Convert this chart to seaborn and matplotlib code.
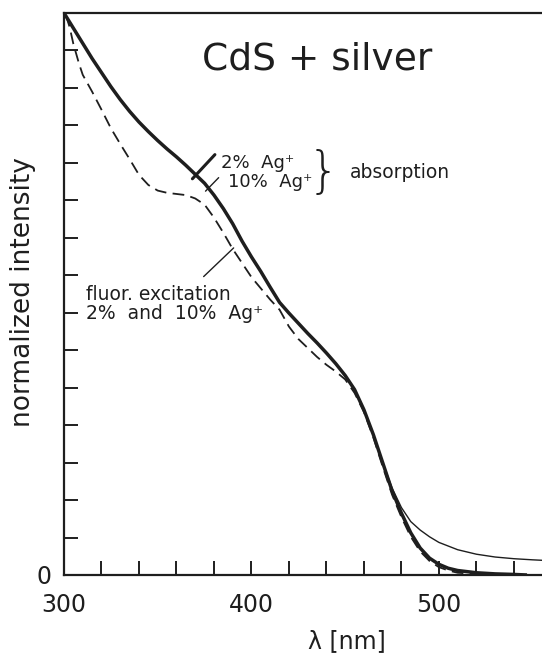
import numpy as np
import pandas as pd
import matplotlib
matplotlib.use("Agg")
import matplotlib.pyplot as plt
import seaborn as sns

# Wavelength grid (nm) for the absorption spectra
wl_abs = [300, 305, 310, 315, 320, 325, 330, 335, 340, 345, 350, 355, 360, 365,
          370, 375, 380, 385, 390, 395, 400, 405, 410, 415, 420, 425, 430, 435,
          440, 445, 450, 455, 460, 465, 470, 475, 480, 485, 490, 495, 500, 505,
          510, 520, 530, 540, 547]

# Absorption, 2% Ag+ (normalized)
abs_2 = [1.000, 0.973, 0.946, 0.919, 0.894, 0.869, 0.846, 0.825, 0.806, 0.789,
         0.773, 0.758, 0.744, 0.729, 0.713, 0.697, 0.676, 0.652, 0.625, 0.594,
         0.566, 0.540, 0.512, 0.485, 0.466, 0.448, 0.430, 0.413, 0.395, 0.376,
         0.355, 0.330, 0.294, 0.250, 0.200, 0.150, 0.110, 0.075, 0.048, 0.030,
         0.019, 0.012, 0.008, 0.004, 0.002, 0.001, 0.000]

# Absorption, 10% Ag+ (normalized) -- long-wavelength tail
wl_abs10 = [300, 305, 310, 315, 320, 325, 330, 335, 340, 345, 350, 355, 360, 365,
            370, 375, 380, 385, 390, 395, 400, 405, 410, 415, 420, 425, 430, 435,
            440, 445, 450, 455, 460, 465, 470, 475, 480, 485, 490, 495, 500, 510,
            520, 530, 540, 550, 556]
abs_10 = [1.000, 0.973, 0.946, 0.919, 0.894, 0.869, 0.846, 0.825, 0.806, 0.789,
          0.773, 0.758, 0.744, 0.729, 0.713, 0.697, 0.676, 0.652, 0.625, 0.594,
          0.566, 0.540, 0.512, 0.485, 0.466, 0.448, 0.430, 0.413, 0.395, 0.376,
          0.355, 0.330, 0.294, 0.250, 0.200, 0.155, 0.120, 0.095, 0.080, 0.068,
          0.058, 0.045, 0.037, 0.032, 0.029, 0.027, 0.026]

# Fluorescence excitation, 2% and 10% Ag+ (normalized)
wl_exc = [301, 303, 305, 308, 310, 315, 320, 325, 330, 335, 340, 345, 350, 355,
          360, 365, 370, 375, 380, 385, 390, 395, 400, 405, 410, 415, 420, 425,
          430, 435, 440, 445, 450, 455, 460, 465, 470, 475, 480, 485, 490, 495,
          500, 505, 510, 520, 530, 545]
exc = [0.996, 0.975, 0.945, 0.910, 0.890, 0.860, 0.828, 0.795, 0.767, 0.740,
       0.712, 0.694, 0.684, 0.680, 0.678, 0.676, 0.670, 0.659, 0.636, 0.609,
       0.580, 0.555, 0.530, 0.510, 0.490, 0.472, 0.442, 0.420, 0.404, 0.388,
       0.374, 0.362, 0.348, 0.324, 0.290, 0.245, 0.193, 0.143, 0.103, 0.068,
       0.042, 0.025, 0.014, 0.008, 0.004, 0.002, 0.001, 0.000]

x_ticks = [300, 320, 340, 360, 380, 400, 420, 440, 460, 480, 500, 520, 540]
x_ticklabels = ["300", "", "", "", "", "400", "", "", "", "", "500", "", ""]
y_ticks = [k / 15 for k in range(16)]
y_ticklabels = ["0"] + [""] * 15

sns.set_theme(style="ticks")
plt.rcParams["font.family"] = ["DejaVu Sans"]

ink = "#1e1e1e"
fig = plt.figure(figsize=(5.42, 6.54), dpi=100)
ax = fig.add_axes([64 / 542, 1 - 575 / 654, 478 / 542, 562 / 654])

df_a2 = pd.DataFrame({"wl": wl_abs, "I": abs_2})
df_a10 = pd.DataFrame({"wl": wl_abs10, "I": abs_10})
df_ex = pd.DataFrame({"wl": wl_exc, "I": exc})

sns.lineplot(data=df_ex, x="wl", y="I", ax=ax, color=ink, lw=1.3,
             linestyle=(0, (6.5, 3.5)), estimator=None, sort=False)
sns.lineplot(data=df_a10, x="wl", y="I", ax=ax, color=ink, lw=1.0,
             estimator=None, sort=False)
sns.lineplot(data=df_a2, x="wl", y="I", ax=ax, color=ink, lw=2.5,
             estimator=None, sort=False, solid_capstyle="butt")

ax.set_xlim(300, 555)
ax.set_ylim(0, 1)
ax.set_xticks(x_ticks)
ax.set_xticklabels(x_ticklabels)
ax.set_yticks(y_ticks)
ax.set_yticklabels(y_ticklabels)
ax.tick_params(axis="both", direction="in", length=10, width=1.4, color=ink,
               labelcolor=ink, labelsize=17)
ax.tick_params(axis="x", pad=13)
ax.tick_params(axis="y", pad=9)

for side in ["left", "bottom", "top"]:
    ax.spines[side].set_color(ink)
    ax.spines[side].set_linewidth(1.6)
ax.spines["right"].set_visible(False)

ax.set_xlabel("λ [nm]", fontsize=17, color=ink)
ax.xaxis.set_label_coords(0.592, -0.097)
ax.set_ylabel("normalized intensity", fontsize=19, color=ink)
ax.yaxis.set_label_coords(-0.058, 0.504)

# Title inside the frame
ax.text(435, 0.918, "CdS + silver", fontsize=27, color=ink,
        ha="center", va="center")

# Absorption labels with pointer lines
ax.plot([368.5, 380.5], [0.705, 0.748], color=ink, lw=2.2)
ax.plot([375.5, 382.5], [0.683, 0.707], color=ink, lw=1.0)
ax.text(383.5, 0.733, "2%  Ag⁺", fontsize=13, color=ink, ha="left", va="center")
ax.text(387.5, 0.699, "10%  Ag⁺", fontsize=13, color=ink, ha="left", va="center")
ax.text(438.5, 0.716, "}", fontsize=36, color=ink, ha="center", va="center",
        fontweight="light")
ax.text(452.5, 0.716, "absorption", fontsize=13.5, color=ink,
        ha="left", va="center")

# Fluorescence excitation label with pointer line
ax.plot([374.5, 390.5], [0.531, 0.582], color=ink, lw=1.0)
ax.text(312.0, 0.500, "fluor. excitation", fontsize=13.5, color=ink,
        ha="left", va="center")
ax.text(312.0, 0.465, "2%  and  10%  Ag⁺", fontsize=13.5, color=ink,
        ha="left", va="center")

fig.savefig("out.png", dpi=100, facecolor="white")
